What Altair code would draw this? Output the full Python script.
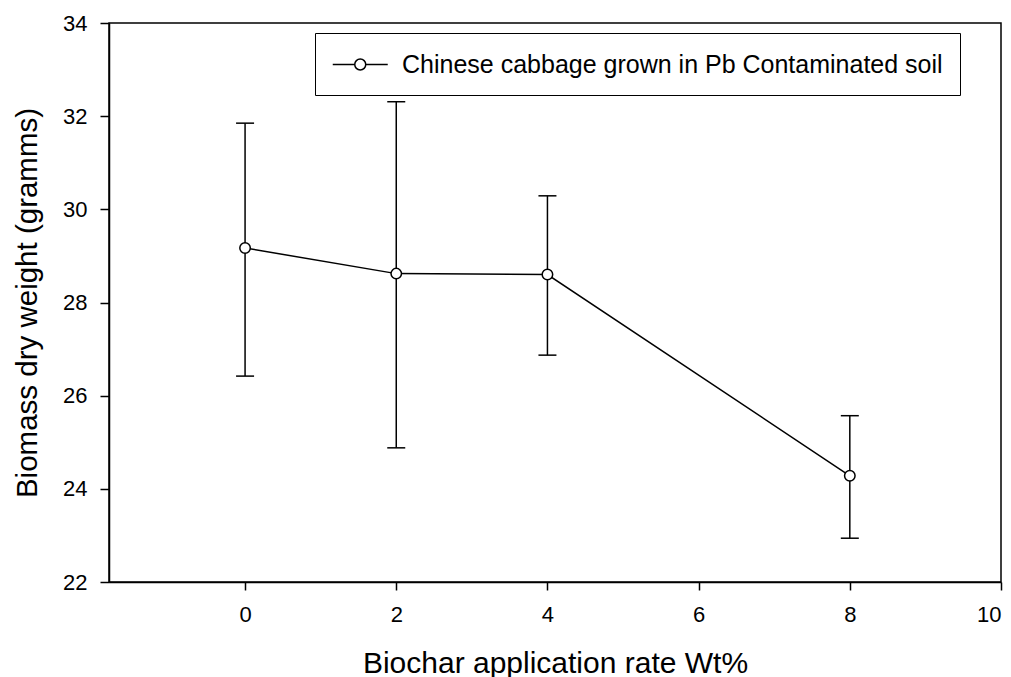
import altair as alt
import pandas as pd

# ---- data ----
rates = [0, 2, 4, 8]
means = [29.17, 28.62, 28.60, 24.28]
upper = [31.85, 32.31, 30.29, 25.57]
lower = [26.42, 24.88, 26.87, 22.94]
series_name = "Chinese cabbage grown in Pb Contaminated soil"
x_ticks = [0, 2, 4, 6, 8, 10]
y_ticks = [22, 24, 26, 28, 30, 32, 34]
x_domain = [-1.8, 10]
y_domain = [22, 34]

df = pd.DataFrame({
    "rate": rates,
    "mean": means,
    "upper": upper,
    "lower": lower,
    "series": [series_name] * len(rates),
})

FONT = "Liberation Sans"
x_scale = alt.Scale(domain=x_domain, nice=False, zero=False)
y_scale = alt.Scale(domain=y_domain, nice=False, zero=False)

x_axis = alt.Axis(
    title="Biochar application rate Wt%", values=x_ticks, format="d", grid=False,
    tickSize=8, tickWidth=1.5, tickColor="black",
    domainColor="black", domainWidth=1.5,
    labelFontSize=22, labelFont=FONT, labelColor="black", labelPadding=14,
    titleFontSize=30, titleFont=FONT, titleFontWeight="normal", titleColor="black",
    titleY=90, titleBaseline="alphabetic",
)
y_axis = alt.Axis(
    title="Biomass dry weight (gramms)", values=y_ticks, format="d", grid=False,
    tickSize=9, tickWidth=1.5, tickColor="black",
    domainColor="black", domainWidth=1.5,
    labelFontSize=22, labelFont=FONT, labelColor="black", labelPadding=13,
    titleFontSize=29.5, titleFont=FONT, titleFontWeight="normal", titleColor="black",
    titleX=-73, titleY=279.5, titleAngle=-90, titleAlign="center", titleBaseline="alphabetic",
)

base = alt.Chart(df)

rules = base.mark_rule(color="black", strokeWidth=1.5).encode(
    x=alt.X("rate:Q", scale=x_scale, axis=x_axis),
    y=alt.Y("lower:Q", scale=y_scale, axis=y_axis),
    y2="upper:Q",
)
caps_hi = base.mark_tick(color="black", thickness=1.5, size=18, orient="horizontal", opacity=1).encode(
    x="rate:Q", y="upper:Q"
)
caps_lo = base.mark_tick(color="black", thickness=1.5, size=18, orient="horizontal", opacity=1).encode(
    x="rate:Q", y="lower:Q"
)
line = base.mark_line(color="black", strokeWidth=1.5).encode(
    x="rate:Q", y="mean:Q"
)

# line-with-open-circle legend glyph, extending to the right of its nominal box
legend_symbol = "M-1,0L0.6,0M1.4,0L3,0M1.4,0A0.4,0.4 0 1,1 0.6,0A0.4,0.4 0 1,1 1.4,0Z"

points = base.mark_point(filled=True, fill="white", strokeWidth=1.5, size=110, opacity=1).encode(
    x="rate:Q",
    y="mean:Q",
    stroke=alt.Stroke(
        "series:N",
        scale=alt.Scale(range=["black"]),
        legend=alt.Legend(
            title=None, orient="none", legendX=206, legendY=10,
            symbolType=legend_symbol, symbolSize=756, symbolStrokeWidth=1.5,
            symbolFillColor="white", symbolStrokeColor="black",
            labelFontSize=25, labelFont=FONT, labelColor="black", labelOffset=41,
            padding=17, strokeColor="black", fillColor="white", labelLimit=1000,
        ),
    ),
)

chart = alt.layer(rules, caps_hi, caps_lo, line, points).properties(
    width=892,
    height=559,
    padding={"left": 109, "top": 23, "right": 10, "bottom": 95},
    autosize=alt.AutoSizeParams(type="none"),
    background="white",
).configure_view(stroke="black", strokeWidth=1.5)

chart.save("out.html", embed_options={"renderer": "svg", "actions": False})
